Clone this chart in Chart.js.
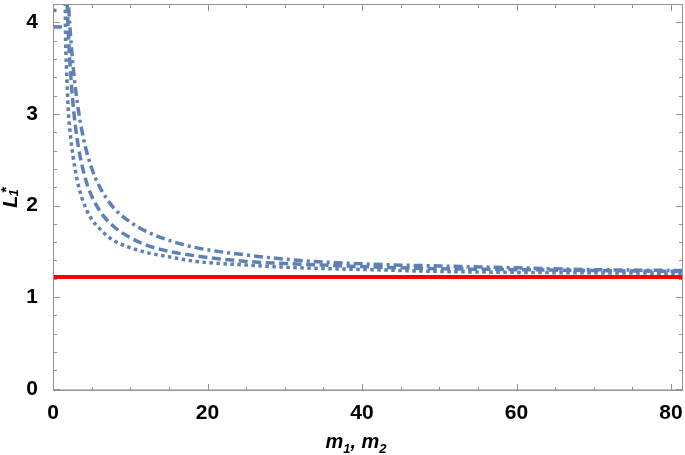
<!DOCTYPE html>
<html><head><meta charset="utf-8">
<script src="https://cdn.jsdelivr.net/npm/chart.js@4/dist/chart.umd.min.js"></script>
<style>html,body{margin:0;padding:0;background:#fff}#c{display:block}</style>
</head><body>
<div style="width:685px;height:455px"><canvas id="c"></canvas></div>
<script>
// ---- data ----
const xDotted = [1.55,1.62,1.75,1.97,2.3,2.85,3.5,4.36,5,6,7,8,10,12,15,18.5,25,32,41,50,60,70,81.5];
const yDotted = [4.6,3.9,3.5,3.05,2.73,2.40,2.15,1.95,1.85,1.75,1.67,1.61,1.54,1.49,1.44,1.39,1.35,1.32,1.30,1.28,1.27,1.265,1.26];
const xDashed = [1.7,2.0,2.3,2.6,3.1,3.75,4.5,5.5,6.5,8,10,12,15,18.5,25,32,41,50,60,70,81.5];
const yDashed = [4.5,3.85,3.42,3.10,2.74,2.44,2.21,2.02,1.89,1.76,1.65,1.57,1.50,1.45,1.39,1.36,1.33,1.31,1.30,1.29,1.28];
const xDotDash = [1.75,1.9,2.2,2.6,3.2,4,5,6,7,8,10,12,15,18.5,25,32,41,50,60,70,81.5];
const yDotDash = [4.6,4.36,3.94,3.52,3.09,2.71,2.41,2.21,2.07,1.96,1.82,1.72,1.62,1.54,1.46,1.40,1.36,1.34,1.32,1.30,1.29];
const xDottedLeft = [0,0.6];
const yDottedLeft = [4.13,4.13];
const xDashedLeft = [0,1.3];
const yDashedLeft = [3.95,3.95];
const xRed = [0,81.55];
const yRed = [1.22,1.22];
const xTickValues = [0,20,40,60,80];
const xTickLabels = ['0','20','40','60','80'];
const yTickValues = [0,1,2,3,4];
const yTickLabels = ['0','1','2','3','4'];

const BLUE = '#5E81B5';
const pts = (xs, ys) => xs.map((x, i) => ({x, y: ys[i]}));
const FONT = "'Liberation Sans Narrow','Liberation Sans',Arial,sans-serif";

const framePlugin = {
  id: 'frame',
  afterDraw(chart) {
    const {ctx, chartArea: a, scales: {x, y}} = chart;
    ctx.save();
    ctx.lineWidth = 1;
    ctx.strokeStyle = '#c8c8c8';
    ctx.beginPath();
    const y0 = Math.round(y.getPixelForValue(0)) + 0.5;
    ctx.moveTo(a.left, y0); ctx.lineTo(a.right, y0); ctx.stroke();
    ctx.strokeStyle = '#939393';
    ctx.strokeRect(a.left + 0.5, a.top + 0.5, a.right - a.left - 1, a.bottom - a.top - 1);
    ctx.beginPath();
    for (let v = 0; v <= 81.5; v += 5) {
      const px = Math.round(x.getPixelForValue(v)) + 0.5;
      const len = v % 20 === 0 ? 7 : 4;
      ctx.moveTo(px, a.bottom); ctx.lineTo(px, a.bottom - len);
      ctx.moveTo(px, a.top); ctx.lineTo(px, a.top + len);
    }
    for (let i = 0; i <= 21; i++) {
      const v = i * 0.2;
      const py = Math.round(y.getPixelForValue(v)) + 0.5;
      const len = i % 5 === 0 ? 7 : 4;
      ctx.moveTo(a.left, py); ctx.lineTo(a.left + len, py);
      ctx.moveTo(a.right, py); ctx.lineTo(a.right - len, py);
    }
    ctx.stroke();

    // axis titles
    ctx.fillStyle = '#000';
    ctx.textBaseline = 'alphabetic';
    const big = "italic bold 20px " + FONT, small = "italic bold 13px " + FONT;
    const parts = [['m', big, 0], ['1', small, 5], [', ', big, 0], ['m', big, 0], ['2', small, 5]];
    let w = 0;
    parts.forEach(p => { ctx.font = p[1]; w += ctx.measureText(p[0]).width; });
    let cx = 356 - w / 2;
    parts.forEach(p => { ctx.font = p[1]; ctx.fillText(p[0], cx, 448 + p[2]); cx += ctx.measureText(p[0]).width; });
    // y title: L with stacked subscript 1 and superscript *
    ctx.translate(17, 198);
    ctx.rotate(-Math.PI / 2);
    ctx.font = big;
    const lw = ctx.measureText('L').width;
    ctx.font = small;
    const sw = ctx.measureText('1').width;
    let sx = -(lw + sw) / 2;
    ctx.font = big;
    ctx.fillText('L', sx, 0);
    sx += lw;
    ctx.font = small;
    ctx.fillText('1', sx - 1, 1);
    ctx.font = "bold 15px " + FONT;
    ctx.fillText('*', sx + 3, -6);
    ctx.restore();
  }
};

const lineDs = (data, dash, color, width) => ({
  data, borderColor: color, borderWidth: width, borderDash: dash,
  pointRadius: 0, showLine: true, fill: false,
  cubicInterpolationMode: 'monotone', borderCapStyle: 'butt'
});

new Chart(document.getElementById('c'), {
  type: 'scatter',
  data: {
    datasets: [
      lineDs(pts(xRed, yRed), [], '#FF0000', 4),
      lineDs(pts(xDotted, yDotted), [3.5, 3.5], BLUE, 3.5),
      lineDs(pts(xDashed, yDashed), [9, 4.5], BLUE, 3.5),
      lineDs(pts(xDotDash, yDotDash), [9, 4, 3, 4], BLUE, 3.5),
      lineDs(pts(xDottedLeft, yDottedLeft), [3.5, 3.5], BLUE, 3.5),
      lineDs(pts(xDashedLeft, yDashedLeft), [9, 4.5], BLUE, 3.5)
    ]
  },
  options: {
    responsive: true, maintainAspectRatio: false, animation: false,
    layout: {padding: {top: 4, right: 2, left: 0, bottom: 0}},
    plugins: {legend: {display: false}, tooltip: {enabled: false}},
    scales: {
      x: {
        type: 'linear', min: 0, max: 81.55,
        grid: {display: false}, border: {display: false},
        afterFit(s) { s.height = 64; s.paddingLeft = 0; s.paddingRight = 0; },
        afterBuildTicks(s) { s.ticks = xTickValues.map(v => ({value: v})); },
        ticks: {
          padding: 2, color: '#000', maxRotation: 0, autoSkip: false,
          font: {family: FONT, size: 21, weight: 'bold'},
          callback: (v) => xTickLabels[xTickValues.indexOf(v)]
        }
      },
      y: {
        type: 'linear', min: -0.025, max: 4.2,
        grid: {display: false}, border: {display: false},
        afterFit(s) { s.width = 53; s.paddingTop = 0; s.paddingBottom = 0; },
        afterBuildTicks(s) { s.ticks = yTickValues.map(v => ({value: v})); },
        ticks: {
          padding: 7, color: '#000', autoSkip: false,
          font: {family: FONT, size: 21, weight: 'bold'},
          callback: (v) => yTickLabels[yTickValues.indexOf(v)]
        }
      }
    }
  },
  plugins: [framePlugin]
});
</script>
</body></html>
